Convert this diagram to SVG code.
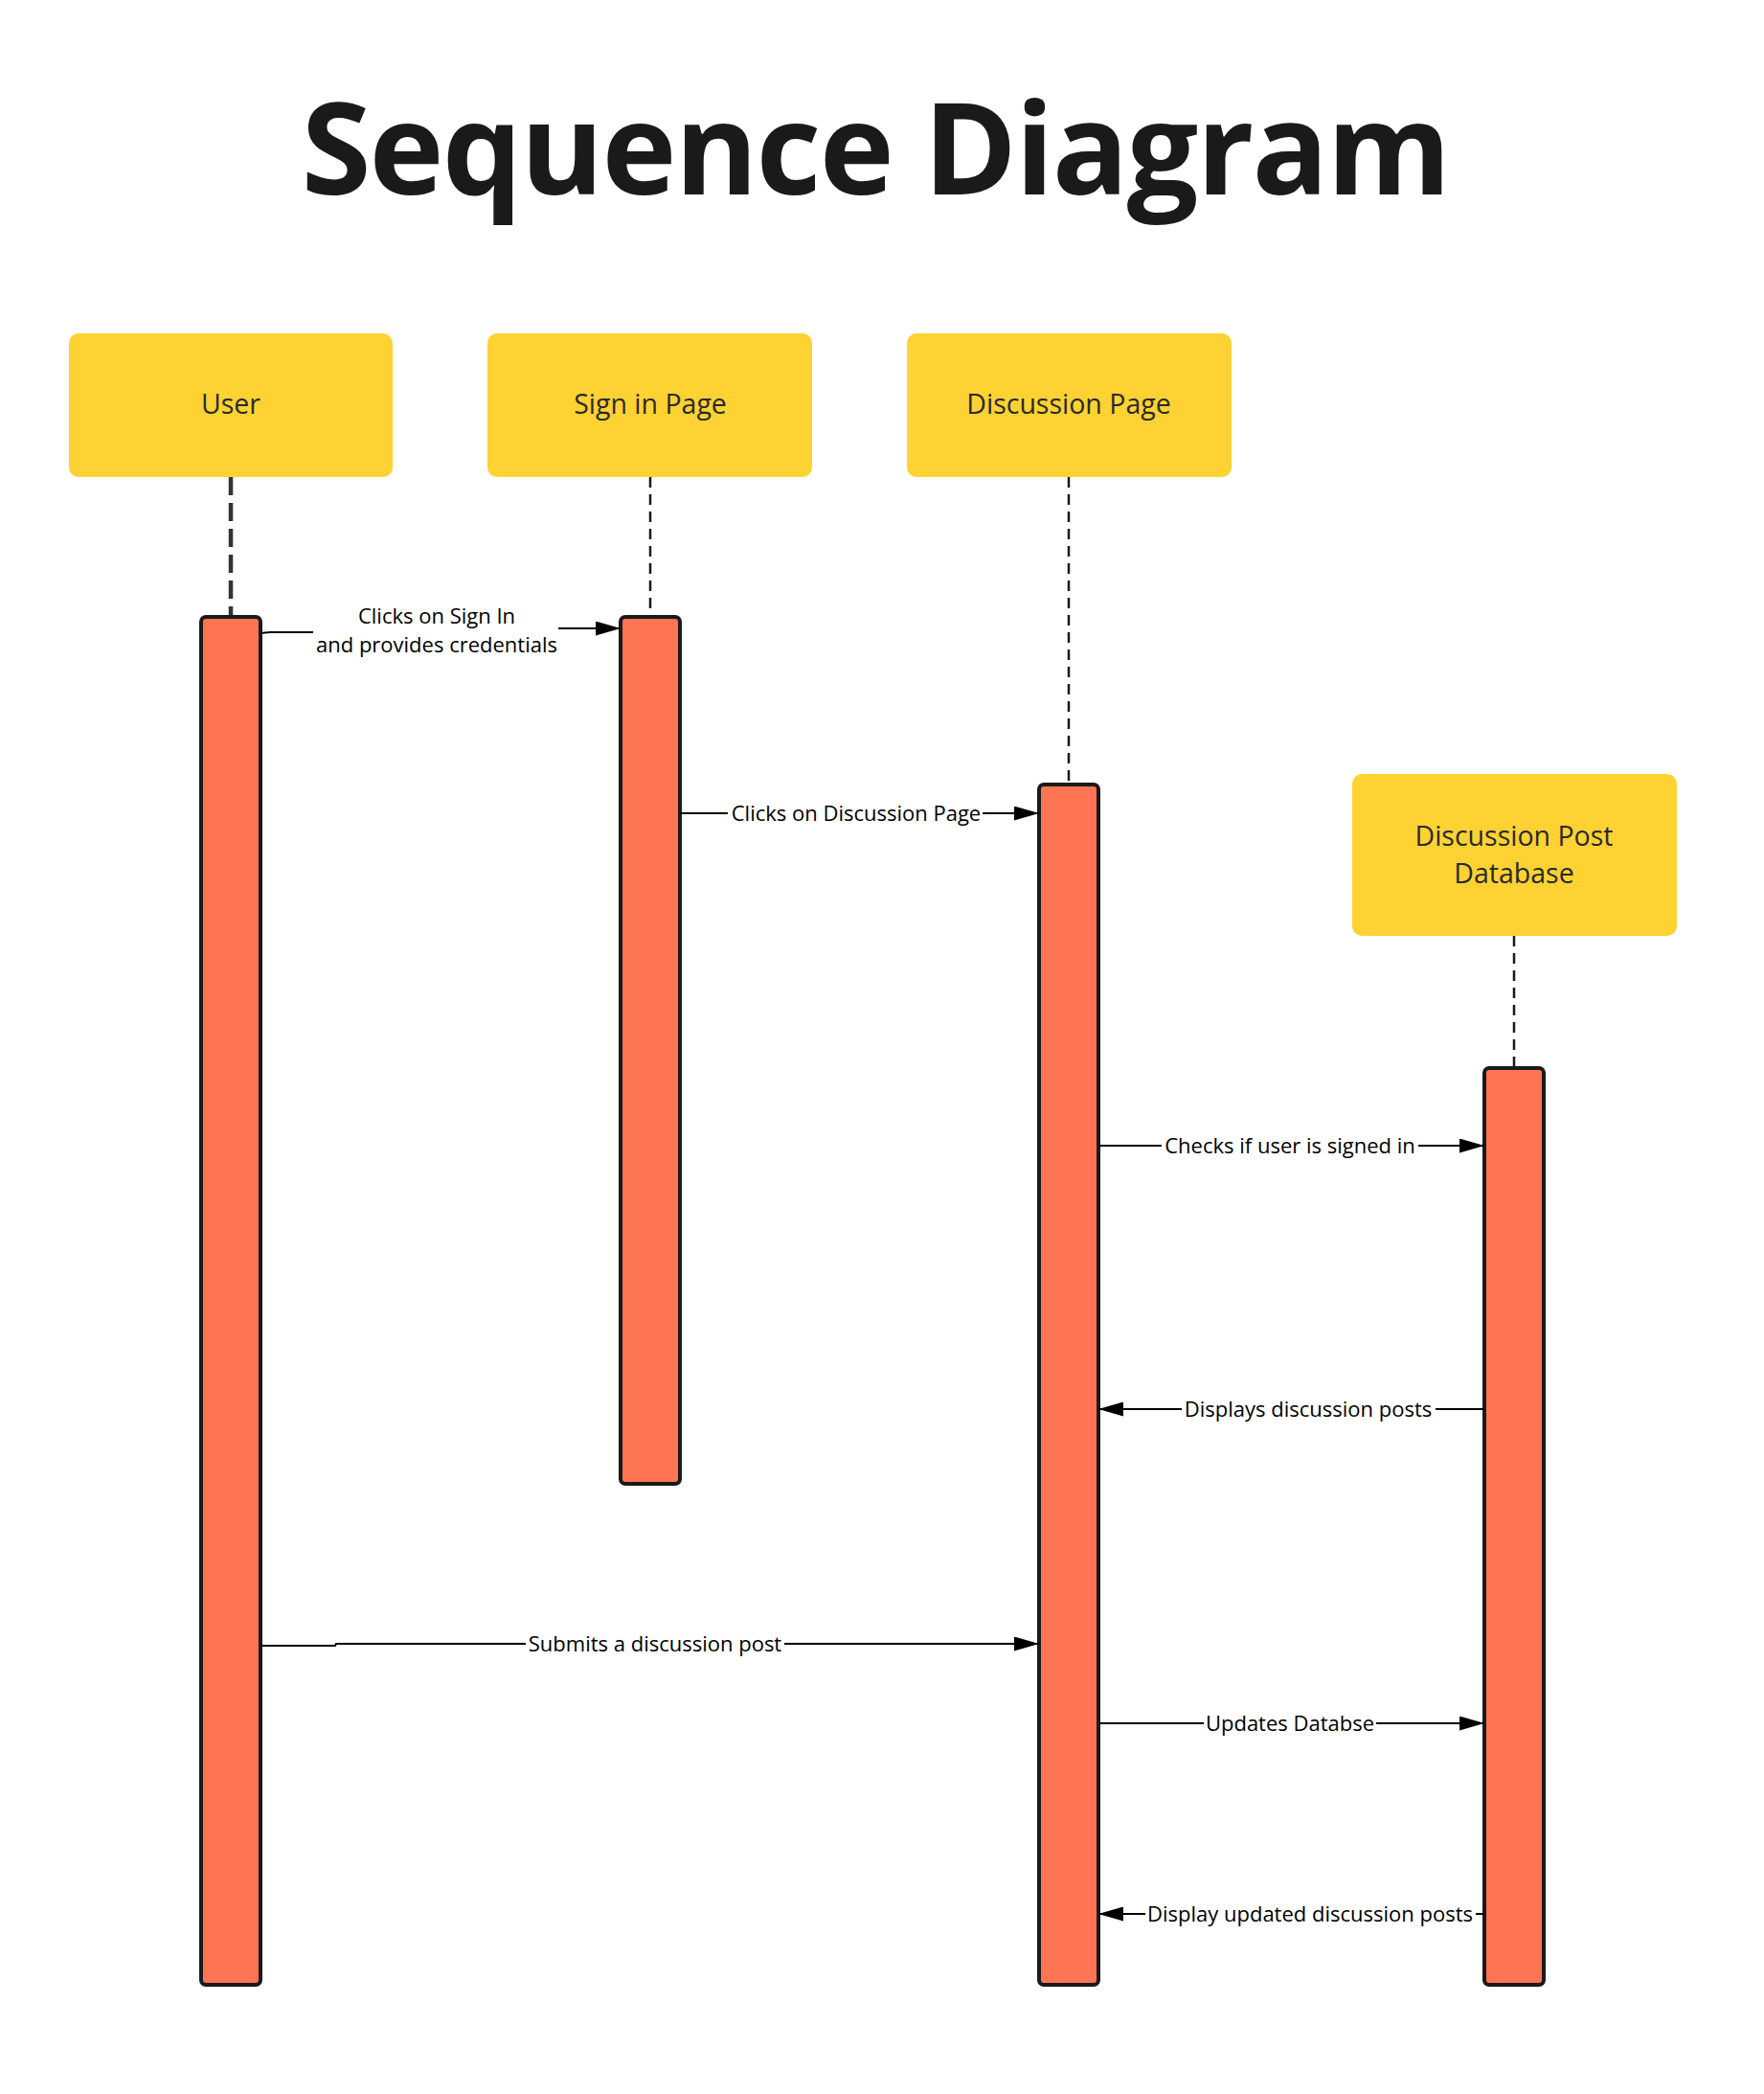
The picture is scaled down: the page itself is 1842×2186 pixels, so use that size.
<svg xmlns="http://www.w3.org/2000/svg" width="1842" height="2186" viewBox="0 0 1842 2186">
<style>
.title{font-family:"Open Sans","Noto Sans",sans-serif;font-weight:700;font-size:132px;letter-spacing:-1.8px;fill:#1a1a1a;text-anchor:middle}
.box{fill:#FED233}
.nlabel{font-family:"Open Sans","Noto Sans",sans-serif;font-size:28.5px;fill:#2a2a2a;text-anchor:middle}
.bar{fill:#FF7452;stroke:#1a1a1a;stroke-width:4}
.life{stroke:#1a1a1a;stroke-width:2.5;stroke-dasharray:11 7;fill:none}
.life-user{stroke:#333;stroke-width:4.5;stroke-dasharray:19 8;fill:none}
.msg{stroke:#000;stroke-width:2;fill:none}
.mlabel{font-family:"Open Sans","Noto Sans",sans-serif;font-size:22px;fill:#000;text-anchor:middle}
</style>
<defs>
<marker id="arr" viewBox="0 0 26 15" refX="26" refY="7.5" markerWidth="26" markerHeight="15" markerUnits="userSpaceOnUse" orient="auto">
<path d="M0,0 L26,7.5 L0,15 Z" fill="#000"/>
</marker>
</defs>
<rect width="1842" height="2186" fill="#fff"/>
<text class="title" x="914" y="203">Sequence Diagram</text>

<g id="lifelines">
<line class="life-user" x1="241" y1="498" x2="241" y2="644"/>
<line class="life" x1="679" y1="498" x2="679" y2="644"/>
<line class="life" x1="1116" y1="498" x2="1116" y2="818"/>
<line class="life" x1="1581" y1="977" x2="1581" y2="1115"/>
</g>

<g id="node-user">
<rect class="box" x="72" y="348" width="338" height="150" rx="10"/>
<text class="nlabel" x="241" y="432">User</text>
</g>
<g id="node-signin">
<rect class="box" x="509" y="348" width="339" height="150" rx="10"/>
<text class="nlabel" x="679" y="432">Sign in Page</text>
</g>
<g id="node-discussion">
<rect class="box" x="947" y="348" width="339" height="150" rx="10"/>
<text class="nlabel" x="1116" y="432">Discussion Page</text>
</g>
<g id="node-db">
<rect class="box" x="1412" y="808" width="339" height="169" rx="10"/>
<text class="nlabel" x="1581" y="883">Discussion Post</text>
<text class="nlabel" x="1581" y="922">Database</text>
</g>

<g id="act-user"><rect class="bar" x="210" y="644" width="62" height="1428" rx="5"/></g>
<g id="act-signin"><rect class="bar" x="648" y="644" width="62" height="905" rx="5"/></g>
<g id="act-discussion"><rect class="bar" x="1085" y="819" width="62" height="1253" rx="5"/></g>
<g id="act-db"><rect class="bar" x="1550" y="1115" width="62" height="957" rx="5"/></g>

<g id="connectors">
<path class="msg" d="M272,661 L282,660 L327,660"/>
<path class="msg" d="M583,656 L648,656" marker-end="url(#arr)"/>
<text class="mlabel" x="456" y="651">Clicks on Sign In</text>
<text class="mlabel" x="456" y="681">and provides credentials</text>

<path class="msg" d="M710,849 L760,849"/>
<path class="msg" d="M1026,849 L1085,849" marker-end="url(#arr)"/>
<text class="mlabel" x="894" y="857">Clicks on Discussion Page</text>

<path class="msg" d="M1147,1196 L1213,1196"/>
<path class="msg" d="M1481,1196 L1550,1196" marker-end="url(#arr)"/>
<text class="mlabel" x="1347" y="1204">Checks if user is signed in</text>

<path class="msg" d="M1550,1471 L1499,1471"/>
<path class="msg" d="M1234,1471 L1147,1471" marker-end="url(#arr)"/>
<text class="mlabel" x="1366" y="1479">Displays discussion posts</text>

<path class="msg" d="M272,1718 L350,1718 L351,1716 L549,1716"/>
<path class="msg" d="M819,1716 L1085,1716" marker-end="url(#arr)"/>
<text class="mlabel" x="684" y="1724">Submits a discussion post</text>

<path class="msg" d="M1147,1799 L1257,1799"/>
<path class="msg" d="M1437,1799 L1550,1799" marker-end="url(#arr)"/>
<text class="mlabel" x="1347" y="1807">Updates Databse</text>

<path class="msg" d="M1552,1998 L1541,1998"/>
<path class="msg" d="M1196,1998 L1147,1998" marker-end="url(#arr)"/>
<text class="mlabel" x="1368" y="2006">Display updated discussion posts</text>
</g>
</svg>
